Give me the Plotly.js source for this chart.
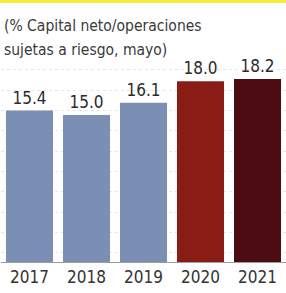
<!DOCTYPE html>
<html>
<head>
<meta charset="utf-8">
<script src="https://cdn.plot.ly/plotly-3.0.1.min.js"></script>
<style>html,body{margin:0;padding:0;background:#fff;}#chart{width:286px;height:293px;}</style>
</head>
<body>
<div id="chart"></div>
<script>
var years = ["2017", "2018", "2019", "2020", "2021"];
var values = [15.4, 15.0, 16.1, 18.0, 18.2];
var labels = ["15.4", "15.0", "16.1", "18.0", "18.2"];
var barColors = ["#7b8fb4", "#7b8fb4", "#7b8fb4", "#8a1c16", "#4b0c12"];
var titleLine1 = "(% Capital neto/operaciones";
var titleLine2 = "sujetas a riesgo, mayo)";

var FONT = "'DejaVu Sans Condensed', sans-serif";

var trace = {
  type: "bar",
  x: years,
  y: values,
  text: labels,
  textposition: "outside",
  cliponaxis: false,
  textfont: {family: FONT, size: 17, color: "#2a2a2a"},
  marker: {color: barColors, line: {width: 0}},
  hoverinfo: "skip"
};

var layout = {
  width: 286,
  height: 293,
  margin: {l: 1, r: 0, t: 62, b: 31, pad: 0},
  paper_bgcolor: "#ffffff",
  plot_bgcolor: "#ffffff",
  showlegend: false,
  bargap: 0.175,
  font: {family: FONT, color: "#333"},
  xaxis: {
    type: "category",
    showgrid: false,
    zeroline: false,
    showline: true,
    linecolor: "#9a9a9a",
    linewidth: 1,
    ticks: "",
    tickfont: {family: FONT, size: 17, color: "#333"},
    fixedrange: true
  },
  yaxis: {
    range: [2, 19.7],
    showticklabels: false,
    ticks: "",
    zeroline: false,
    showline: false,
    showgrid: true,
    tick0: 1,
    dtick: 1.8,
    gridcolor: "#e6e6e6",
    griddash: "dot",
    gridwidth: 1,
    fixedrange: true
  },
  annotations: [
    {xref: "paper", yref: "paper", x: 0.005, y: 1.182, xanchor: "left", yanchor: "middle",
     text: titleLine1, showarrow: false, font: {family: FONT, size: 15.5, color: "#3a3a3a"}},
    {xref: "paper", yref: "paper", x: 0.005, y: 1.06, xanchor: "left", yanchor: "middle",
     text: titleLine2, showarrow: false, font: {family: FONT, size: 15.5, color: "#3a3a3a"}}
  ],
  shapes: [
    {type: "rect", xref: "paper", yref: "paper", x0: -0.004, x1: 1.0, y0: 1.295, y1: 1.31,
     fillcolor: "#f2ef3a", line: {width: 0}, layer: "above"}
  ]
};

Plotly.newPlot("chart", [trace], layout, {displayModeBar: false, staticPlot: true});
</script>
</body>
</html>
